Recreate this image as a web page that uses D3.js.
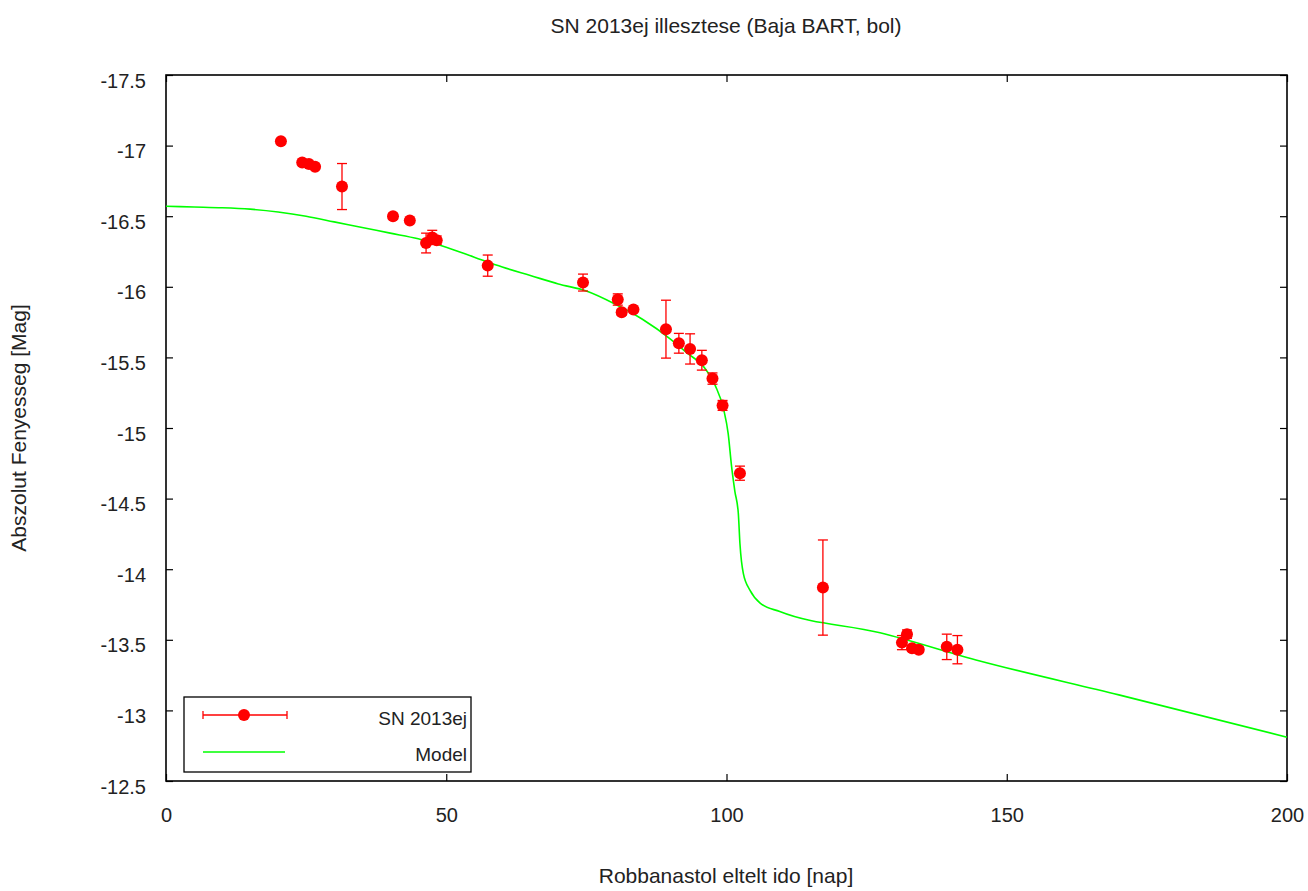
<!DOCTYPE html>
<html>
<head>
<meta charset="utf-8">
<script src="https://cdn.jsdelivr.net/npm/d3@7"></script>
<style>
html,body{margin:0;padding:0;background:#fff;}
svg{display:block;}
text{font-family:"Liberation Sans",Arial,sans-serif;fill:#222;}
</style>
</head>
<body>
<svg id="chart" width="1308" height="891"></svg>
<script>
// ---- data ----
const obsDays = [20.5, 24.3, 25.5, 26.6, 31.4, 40.5, 43.5, 46.4, 47.5, 48.3, 57.4, 74.4, 80.6, 81.3, 83.4,
  89.2, 91.5, 93.5, 95.6, 97.5, 99.3, 102.4, 117.2, 131.3, 132.2, 133.1, 134.3, 139.3, 141.2];
const obsMag = [-17.03, -16.88, -16.87, -16.85, -16.71, -16.50, -16.47, -16.31, -16.35, -16.33, -16.15, -16.03, -15.91, -15.82, -15.84,
  -15.70, -15.60, -15.56, -15.48, -15.35, -15.16, -14.68, -13.87, -13.48, -13.54, -13.44, -13.43, -13.45, -13.43];
const obsErr = [0.01, 0.01, 0.01, 0.01, 0.163, 0.02, 0.01, 0.07, 0.05, 0.03, 0.075, 0.06, 0.04, 0.02, 0.01,
  0.205, 0.07, 0.107, 0.07, 0.04, 0.035, 0.05, 0.337, 0.05, 0.03, 0.02, 0.02, 0.09, 0.10];

const modelDays = [0, 5, 10, 15, 20, 25, 30, 35, 40, 45, 50, 55, 60, 65, 70, 75, 80, 85, 90, 93, 96, 98, 99.5,
  100.3, 100.9, 101.5, 102.1, 102.4, 103.0, 104.2, 106, 109.5, 127.4, 145.2, 170, 200];
const modelMag = [-16.57, -16.565, -16.56, -16.55, -16.53, -16.50, -16.46, -16.42, -16.38, -16.34, -16.28, -16.21, -16.14, -16.08, -16.02, -15.97, -15.88, -15.77, -15.63, -15.53, -15.43, -15.30, -15.13,
  -14.96, -14.73, -14.55, -14.40, -14.18, -13.97, -13.85, -13.76, -13.70, -13.55, -13.35, -13.11, -12.81];

const xTicks = [0, 50, 100, 150, 200];
const yTicks = [-17.5, -17, -16.5, -16, -15.5, -15, -14.5, -14, -13.5, -13, -12.5];

const titleText = "SN 2013ej illesztese (Baja BART, bol)";
const xLabelText = "Robbanastol eltelt ido [nap]";
const yLabelText = "Abszolut Fenyesseg [Mag]";
const legendLabels = ["SN 2013ej", "Model"];

// ---- layout ----
const L = 166, R = 1287, T = 75, B = 781;
const svg = d3.select("#chart");
const x = d3.scaleLinear().domain([0, 200]).range([L, R]);
const y = d3.scaleLinear().domain([-17.5, -12.5]).range([T, B]);
const fsTick = 20, fsTitle = 21, fsLegend = 19;
const tickLen = 7;

// axes (ticks inward, mirrored)
const fmtY = d => String(d);
const gB = svg.append("g").attr("transform", `translate(0,${B})`)
  .call(d3.axisBottom(x).tickValues(xTicks).tickSizeInner(-tickLen).tickSizeOuter(0).tickPadding(34).tickFormat(d => String(d)));
const gT = svg.append("g").attr("transform", `translate(0,${T})`)
  .call(d3.axisTop(x).tickValues(xTicks).tickSizeInner(-tickLen).tickSizeOuter(0).tickFormat(""));
const gL = svg.append("g").attr("transform", `translate(${L},0)`)
  .call(d3.axisLeft(y).tickValues(yTicks).tickSizeInner(-tickLen).tickSizeOuter(0).tickPadding(20).tickFormat(fmtY));
const gR = svg.append("g").attr("transform", `translate(${R},0)`)
  .call(d3.axisRight(y).tickValues(yTicks).tickSizeInner(-tickLen).tickSizeOuter(0).tickFormat(""));
[gB, gT, gL, gR].forEach(g => {
  g.select(".domain").remove();
  g.selectAll(".tick line").attr("stroke", "#000").attr("stroke-width", 1.2);
  g.selectAll("text").attr("font-size", fsTick).attr("fill", "#222").attr("font-family", '"Liberation Sans",Arial,sans-serif');
});
gB.selectAll("text").attr("dy", "0.35em");
gL.selectAll("text").attr("dy", "0.6em");

// frame
svg.append("rect").attr("x", L).attr("y", T).attr("width", R - L).attr("height", B - T)
  .attr("fill", "none").attr("stroke", "#000").attr("stroke-width", 1.6);

// model
const line = d3.line().x((d, i) => x(modelDays[i])).y((d, i) => y(modelMag[i])).curve(d3.curveMonotoneX);
svg.append("path").attr("d", line(modelMag)).attr("fill", "none").attr("stroke", "#00ff00").attr("stroke-width", 1.6);

// observations
const obs = obsDays.map((d, i) => ({ d, m: obsMag[i], e: obsErr[i] }));
const cap = 5;
const gObs = svg.append("g").attr("stroke", "#ff0000").attr("stroke-width", 1.3);
obs.forEach(o => {
  const cx = x(o.d), y1 = y(o.m - o.e), y2 = y(o.m + o.e);
  gObs.append("line").attr("x1", cx).attr("x2", cx).attr("y1", y1).attr("y2", y2);
  gObs.append("line").attr("x1", cx - cap).attr("x2", cx + cap).attr("y1", y1).attr("y2", y1);
  gObs.append("line").attr("x1", cx - cap).attr("x2", cx + cap).attr("y1", y2).attr("y2", y2);
});
svg.append("g").selectAll("circle").data(obs).join("circle")
  .attr("cx", o => x(o.d)).attr("cy", o => y(o.m)).attr("r", 6).attr("fill", "#ff0000");

// legend
const lg = svg.append("g");
lg.append("rect").attr("x", 184).attr("y", 697).attr("width", 287).attr("height", 75)
  .attr("fill", "#fff").attr("stroke", "#000").attr("stroke-width", 1.3);
lg.append("line").attr("x1", 203).attr("x2", 287).attr("y1", 715).attr("y2", 715).attr("stroke", "#ff0000").attr("stroke-width", 1.3);
lg.append("line").attr("x1", 203).attr("x2", 203).attr("y1", 711).attr("y2", 719).attr("stroke", "#ff0000").attr("stroke-width", 1.3);
lg.append("line").attr("x1", 287).attr("x2", 287).attr("y1", 711).attr("y2", 719).attr("stroke", "#ff0000").attr("stroke-width", 1.3);
lg.append("circle").attr("cx", 244).attr("cy", 715).attr("r", 6).attr("fill", "#ff0000");
lg.append("line").attr("x1", 203).attr("x2", 285).attr("y1", 752).attr("y2", 752).attr("stroke", "#00ff00").attr("stroke-width", 1.6);
lg.append("text").attr("x", 467).attr("y", 720).attr("text-anchor", "end").attr("dominant-baseline", "middle").attr("font-size", fsLegend).text(legendLabels[0]);
lg.append("text").attr("x", 467).attr("y", 756).attr("text-anchor", "end").attr("dominant-baseline", "middle").attr("font-size", fsLegend).text(legendLabels[1]);

// titles
svg.append("text").attr("x", 726).attr("y", 27).attr("text-anchor", "middle").attr("dominant-baseline", "middle").attr("font-size", fsTitle).text(titleText);
svg.append("text").attr("x", 726).attr("y", 877).attr("text-anchor", "middle").attr("dominant-baseline", "middle").attr("font-size", fsTitle).text(xLabelText);
svg.append("text").attr("transform", "translate(20,428) rotate(-90)").attr("text-anchor", "middle").attr("dominant-baseline", "middle").attr("font-size", fsTitle).text(yLabelText);
</script>
</body>
</html>
